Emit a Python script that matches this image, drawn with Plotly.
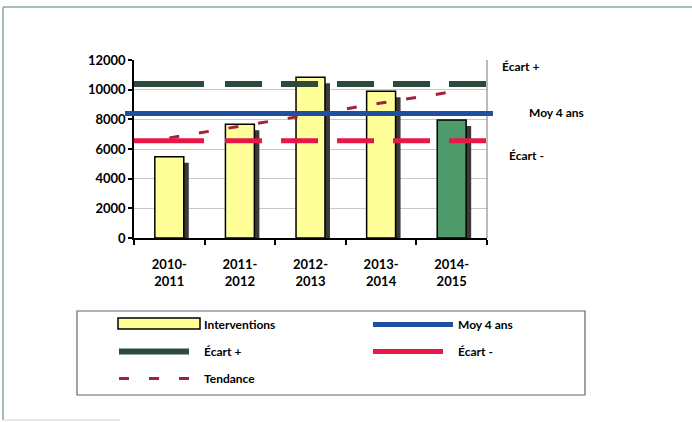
import plotly.graph_objects as go

# ---- data ----
categories = ["2010-<br>2011", "2011-<br>2012", "2012-<br>2013", "2013-<br>2014", "2014-<br>2015"]
interventions = [5480, 7670, 10840, 9890, 7960]
tendance = [6750, 7550, 8300, 9100, 9850]
moy_4_ans = 8400
ecart_plus = 10380
ecart_minus = 6550
y_ticks = [0, 2000, 4000, 6000, 8000, 10000, 12000]

# ---- geometry helpers (layout only) ----
W, H = 692, 422
L, R, T, B = 134, 205, 60, 184
PW = W - L - R
PH = H - T - B


def px(x):
    return (x - L) / PW


def py(y):
    return (H - B - y) / PH


n = len(categories)
xpos = list(range(1, n + 1))
unit_px = n / PW            # data units per pixel on x
BW = 0.41
shadow_dx = 5 * unit_px
shadow_drop = 6 * 12000 / PH
bar_colors = ["#FFFF99"] * (n - 1) + ["#4F9A6B"]

FONT = dict(family="Lato", size=12, color="black", weight="bold")

fig = go.Figure()

# shadow of bars
fig.add_trace(go.Bar(
    x=xpos, y=[v - shadow_drop for v in interventions], width=BW,
    offset=-BW / 2 + shadow_dx, marker=dict(color="#3A3A3A", line=dict(width=0)),
    showlegend=False, hoverinfo="skip"))
# bars
fig.add_trace(go.Bar(
    x=xpos, y=interventions, width=BW, offset=-BW / 2, name="Interventions",
    marker=dict(color=bar_colors, line=dict(color="black", width=1.5)),
    showlegend=False))

# legend entry for the bars (glyph drawn as a shape below)
fig.add_trace(go.Scatter(
    x=[None], y=[None], name="Interventions", mode="lines",
    line=dict(color="rgba(0,0,0,0)", width=1),
    legend="legend", legendgroup="g1"))

dash_long = "70px,21px,37px,19px,37px,19px,37px,19px,37px,19px,37px,19px"

fig.add_trace(go.Scatter(
    x=[0.5, n + 0.5], y=[ecart_plus, ecart_plus], name="Écart +", mode="lines",
    line=dict(color="#2D4A3B", width=6, dash=dash_long),
    legend="legend", legendgroup="g2"))

fig.add_trace(go.Scatter(
    x=xpos, y=tendance, name="Tendance", mode="lines",
    line=dict(color="#A3213C", width=3, dash="10px,20px"),
    legend="legend", legendgroup="g3"))

fig.add_trace(go.Scatter(
    x=[0.5, n + 0.5], y=[moy_4_ans, moy_4_ans], name="Moy 4 ans", mode="lines",
    line=dict(color="#1F4FA0", width=5),
    legend="legend2", legendgroup="g4"))

fig.add_trace(go.Scatter(
    x=[0.5, n + 0.5], y=[ecart_minus, ecart_minus], name="Écart -", mode="lines",
    line=dict(color="#E8174A", width=5, dash=dash_long),
    legend="legend2", legendgroup="g5"))

FRAME = "#8AA6A6"
shapes = [
    # outer frame (top, left, partial bottom)
    dict(type="line", xref="paper", yref="paper", x0=px(3), x1=px(692), y0=py(7), y1=py(7),
         line=dict(color=FRAME, width=1.5)),
    dict(type="line", xref="paper", yref="paper", x0=px(3), x1=px(3), y0=py(7), y1=py(420),
         line=dict(color=FRAME, width=1.5)),
    dict(type="line", xref="paper", yref="paper", x0=px(3), x1=px(120), y0=py(420), y1=py(420),
         line=dict(color="#C8D6D6", width=1)),
    # legend box
    dict(type="rect", xref="paper", yref="paper", x0=px(77), x1=px(585), y0=py(395), y1=py(311),
         line=dict(color="#666666", width=1.2)),
    # legend glyph for bars
    dict(type="rect", xref="paper", yref="paper", x0=px(118), x1=px(200), y0=py(329), y1=py(318),
         fillcolor="#FFFF99", line=dict(color="black", width=1.5)),
    # right border of plot area
    dict(type="line", xref="paper", yref="paper", x0=1, x1=1, y0=0, y1=1,
         line=dict(color="#777777", width=1)),
    # average line overhang
    dict(type="line", xref="paper", yref="y", x0=px(125), x1=px(493), y0=moy_4_ans, y1=moy_4_ans,
         line=dict(color="#1F4FA0", width=5)),
]

annotations = [
    dict(text="Écart +", x=px(500), y=py(66), xref="paper", yref="paper", xanchor="left",
         yanchor="middle", showarrow=False, font=FONT),
    dict(text="Moy 4 ans", x=px(527), y=py(112), xref="paper", yref="paper", xanchor="left",
         yanchor="middle", showarrow=False, font=FONT),
    dict(text="Écart -", x=px(507), y=py(155), xref="paper", yref="paper", xanchor="left",
         yanchor="middle", showarrow=False, font=FONT),
]

legend_common = dict(
    orientation="v", xanchor="left", yanchor="top", bgcolor="rgba(0,0,0,0)",
    borderwidth=0, itemwidth=80, tracegroupgap=8, font=FONT, traceorder="grouped")

fig.update_layout(
    width=W, height=H,
    margin=dict(l=L, r=R, t=T, b=B, autoexpand=False),
    paper_bgcolor="white", plot_bgcolor="white",
    font=FONT,
    barmode="overlay",
    showlegend=True,
    legend=dict(x=px(114), y=py(310), **legend_common),
    legend2=dict(x=px(368), y=py(310), **legend_common),
    shapes=shapes,
    annotations=annotations,
    xaxis=dict(
        range=[0.5, n + 0.5], tickvals=xpos, ticktext=categories,
        showgrid=False, zeroline=False, showline=True, linecolor="black", linewidth=1.5,
        ticks="", ticklabelstandoff=14, tickfont=dict(size=13),
        minor=dict(tick0=0.5, dtick=1, ticks="outside", ticklen=5, tickcolor="black", tickwidth=1.5),
        fixedrange=True),
    yaxis=dict(
        range=[0, 12000], tickvals=y_ticks, tickformat="d",
        showgrid=True, gridcolor="#C8C8C8", gridwidth=1, zeroline=False,
        showline=True, linecolor="black", linewidth=1.5,
        ticks="outside", ticklen=4, tickcolor="black", tickwidth=1.5,
        tickfont=dict(size=13), fixedrange=True),
)

fig.write_html(
    "out.html",
    config={"displayModeBar": False},
    post_script="document.body.style.margin='0';document.body.style.overflow='hidden';")
